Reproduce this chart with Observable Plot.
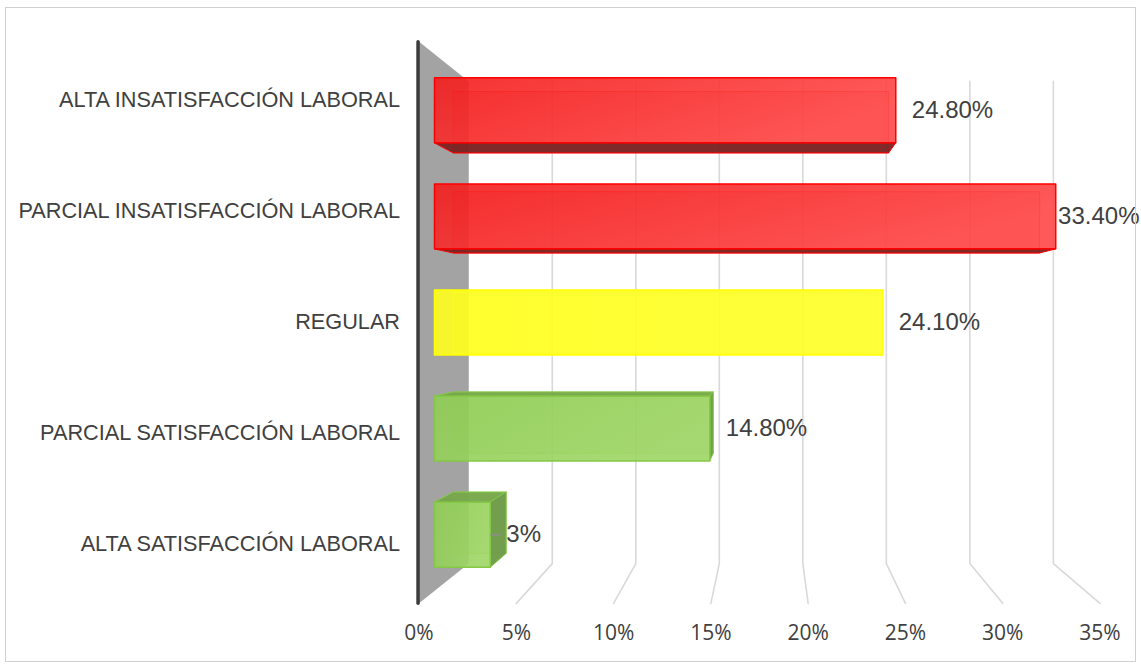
<!DOCTYPE html>
<html>
<head>
<meta charset="utf-8">
<script src="https://cdn.jsdelivr.net/npm/d3@7"></script>
<script src="https://cdn.jsdelivr.net/npm/@observablehq/plot@0.6"></script>
<style>
  html, body { margin: 0; padding: 0; background: #ffffff; }
  #wrap { position: relative; width: 1141px; height: 668px; overflow: hidden; }
  #chart { position: absolute; left: 0; top: 0; }
  #frame { position: absolute; left: 5px; top: 7px; width: 1131px; height: 655px;
           border: 1.5px solid #d0d0d0; box-sizing: border-box; pointer-events: none; }
</style>
</head>
<body>
<svg width="0" height="0" style="position:absolute">
  <defs>
    <linearGradient id="gRed" x1="0" y1="0" x2="1" y2="0.4">
      <stop offset="0" stop-color="#f41c1c"/>
      <stop offset="1" stop-color="#ff4848"/>
    </linearGradient>
    <linearGradient id="gYellow" x1="0" y1="0" x2="1" y2="0">
      <stop offset="0" stop-color="#ffff1e"/>
      <stop offset="1" stop-color="#ffff2c"/>
    </linearGradient>
    <linearGradient id="gGreen" x1="0" y1="0" x2="1" y2="0.4">
      <stop offset="0" stop-color="#90cd54"/>
      <stop offset="1" stop-color="#9ed665"/>
    </linearGradient>
  </defs>
</svg>
<div id="wrap">
  <div id="chart"></div>
  <div id="frame"></div>
</div>
<script>
// ---------------- data ----------------
const categories = [
  "ALTA INSATISFACCIÓN LABORAL",
  "PARCIAL INSATISFACCIÓN LABORAL",
  "REGULAR",
  "PARCIAL SATISFACCIÓN LABORAL",
  "ALTA SATISFACCIÓN LABORAL"
];
const values = [24.8, 33.4, 24.1, 14.8, 3];
const valueLabels = ["24.80%", "33.40%", "24.10%", "14.80%", "3%"];
const barGroups = ["red", "red", "yellow", "green", "green"];
const xTicks = [0, 5, 10, 15, 20, 25, 30, 35];
const xTickLabels = ["0%", "5%", "10%", "15%", "20%", "25%", "30%", "35%"];

// ---------------- styles ----------------
const palette = {
  red:    { front: "url(#gRed)",    stroke: "#ff0000", bottom: "#7a2222", top: "#c41818", right: "#e02a2a", back: "#d01010" },
  yellow: { front: "url(#gYellow)", stroke: "#ffff00", bottom: "#d8d800", top: "#e6e600", right: "#e6e600", back: "#eeee00" },
  green:  { front: "url(#gGreen)",  stroke: "#84c846", bottom: "#6f9c46", top: "#76a64a", right: "#6c9a46", back: "#7cb448" }
};

// ---------------- 3D projection helpers (data units) ----------------
const X0 = 434, PPU = 18.6;                 // px of 0% in bar plane, px per %
const xRange = [X0, X0 + 35 * PPU];
const yDomain = [-0.53, 4.53], yRange = [53.5, 590.5];
const VP = { x: (770 - X0) / PPU, y: 2 };   // vanishing point
const K_FRONT = 1.046, K_BACK = 0.898, K_BOX = 0.9435, HALF = 0.306;
const proj = (x, y, k) => ({ x: VP.x + k * (x - VP.x), y: VP.y + k * (y - VP.y) });
const toPx = u => X0 + u * PPU;

// wall
const yTop = yDomain[0], yBottom = yDomain[1];
const wallPts = [proj(0, yTop, K_FRONT), proj(0, yTop, K_BACK), proj(0, yBottom, K_BACK), proj(0, yBottom, K_FRONT)];
const edgePts = [proj(0, yTop, K_FRONT), proj(0, yBottom, K_FRONT)];

// gridlines (back wall vertical + floor diagonal)
const gridPts = [];
xTicks.filter(t => t > 0).forEach(t => {
  gridPts.push({ t, ...proj(t, yTop, K_BACK) });
  gridPts.push({ t, ...proj(t, yBottom, K_BACK) });
  gridPts.push({ t, ...proj(t, yBottom, K_FRONT) });
});

// bar faces
const backFaces = [], sideFaces = [], frontFaces = [];
values.forEach((v, i) => {
  const p = palette[barGroups[i]];
  const y0 = i - HALF, y1 = i + HALF;
  const F = [proj(0, y0, 1), proj(v, y0, 1), proj(v, y1, 1), proj(0, y1, 1)];
  const B = [proj(0, y0, K_BOX), proj(v, y0, K_BOX), proj(v, y1, K_BOX), proj(0, y1, K_BOX)];
  B.forEach(pt => backFaces.push({ id: "b" + i, fill: p.back, stroke: p.stroke, ...pt }));
  if (y1 < VP.y) [F[3], F[2], B[2], B[3]].forEach(pt => sideFaces.push({ id: "bot" + i, fill: p.bottom, stroke: p.stroke, ...pt }));
  if (y0 > VP.y) [F[0], F[1], B[1], B[0]].forEach(pt => sideFaces.push({ id: "top" + i, fill: p.top, stroke: p.stroke, ...pt }));
  if (v < VP.x) [F[1], F[2], B[2], B[1]].forEach(pt => sideFaces.push({ id: "r" + i, fill: p.right, stroke: p.stroke, ...pt }));
  F.forEach(pt => frontFaces.push({ id: "f" + i, fill: p.front, stroke: p.stroke, ...pt }));
});

// value label positions
const ctx = document.createElement("canvas").getContext("2d");
ctx.font = "24px 'Liberation Sans'";
const labelData = values.map((v, i) => {
  const w = ctx.measureText(valueLabels[i]).width;
  let px = toPx(v) + 16;
  px = Math.min(px, 1139 - w);
  const backRight = toPx(proj(v, i, K_BOX).x);
  return { i, v, text: valueLabels[i], x: (px - X0) / PPU, leader: px - backRight < 8 };
});
const leaders = labelData.filter(d => d.leader);

// ---------------- chart ----------------
const chart = Plot.plot({
  width: 1141,
  height: 668,
  marginTop: 0, marginBottom: 0, marginLeft: 0, marginRight: 0,
  x: { domain: [0, 35], range: xRange, axis: null },
  y: { domain: yDomain, range: yRange, axis: null },
  color: { type: "identity" },
  style: { background: "transparent", fontFamily: "'Liberation Sans', Arial, sans-serif", overflow: "visible" },
  marks: [
    Plot.line(gridPts, { x: "x", y: "y", z: "t", stroke: "#d9d9d9", strokeWidth: 1.6 }),
    Plot.line(wallPts, { x: "x", y: "y", curve: "linear-closed", fill: "#a3a3a3", stroke: "none" }),
    Plot.line(edgePts, { x: "x", y: "y", stroke: "#3c3c3c", strokeWidth: 3.5, dx: -1 }),
    Plot.line(backFaces, { x: "x", y: "y", z: "id", curve: "linear-closed", fill: "fill", fillOpacity: 0.25, stroke: "stroke", strokeOpacity: 0.7, strokeWidth: 1 }),
    Plot.line(sideFaces, { x: "x", y: "y", z: "id", curve: "linear-closed", fill: "fill", fillOpacity: 0.95, stroke: "stroke", strokeWidth: 1 }),
    Plot.line(frontFaces, { x: "x", y: "y", z: "id", curve: "linear-closed", fill: "fill", fillOpacity: 0.9, stroke: "stroke", strokeWidth: 1.5 }),
    Plot.link(leaders, { x1: "v", x2: d => d.x - 5 / PPU, y1: "i", y2: "i", stroke: "#8c8c8c", strokeWidth: 1.5 }),
    // value labels
    Plot.text(labelData, { x: "x", y: "i", text: "text", textAnchor: "start", fontSize: 24, fill: "#404040" }),
    // category labels
    Plot.text(categories, { x: () => proj(0, 0, K_FRONT).x, y: (d, i) => proj(0, i, K_FRONT).y, text: d => d,
      textAnchor: "end", dx: -19, fontSize: 21.7, fill: "#404040" }),
    // x tick labels on the floor front edge
    Plot.text(xTicks, { x: t => proj(t, yBottom, K_FRONT).x, y: () => proj(0, yBottom, K_FRONT).y, text: (t, i) => xTickLabels[i],
      dy: 30, fontSize: 21, fontFamily: "'Open Sans', sans-serif", fill: "#404040" })
  ]
});
document.getElementById("chart").appendChild(chart);
</script>
</body>
</html>
